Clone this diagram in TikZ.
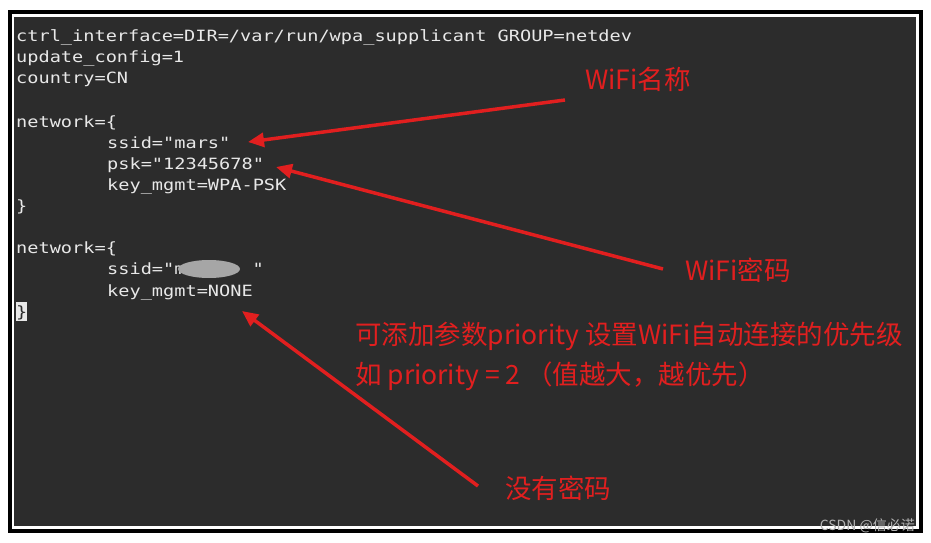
\documentclass[tikz,border=0pt]{standalone}
\usepackage{fontspec}
\setmonofont{DejaVu Sans Mono}
\newfontfamily\cjk{Noto Sans CJK SC}
\usetikzlibrary{arrows.meta}
\definecolor{bg}{HTML}{2C2C2C}
\definecolor{code}{HTML}{E8E8E8}
\definecolor{ann}{HTML}{E11F1F}
\tikzset{x=1pt,y=-1pt,
 codeline/.style={anchor=base west,inner sep=0pt,text=code,font=\ttfamily\fontsize{15.5}{18}\selectfont},
 annot/.style={anchor=base west,inner sep=0pt,text=ann,font=\cjk\fontsize{26.5}{30}\selectfont},
 redarrow/.style={draw=ann,line width=3.5pt,-{Triangle[length=16pt,width=14pt]}}}
\newcommand{\cl}[1]{\scalebox{1.2}[1]{#1}}
\begin{document}
\begin{tikzpicture}
\useasboundingbox (0,0) rectangle (931,543);
\fill[white] (0,0) rectangle (931,543);
\fill[black] (8,10) rectangle (923,533);
\fill[white] (12,14) rectangle (919,529);
\fill[bg] (14,17) rectangle (916,526);
% code
\node[codeline] (l1) at (16,42) {\cl{ctrl\_interface=DIR=/var/run/wpa\_supplicant GROUP=netdev}};
\node[codeline] (l2) at (16,63) {\cl{update\_config=1}};
\node[codeline] (l3) at (16,84) {\cl{country=CN}};
\node[codeline] (l4) at (16,127) {\cl{network=\{}};
\node[codeline] (l5) at (107,148) {\cl{ssid="mars"}};
\node[codeline] (l6) at (107,169) {\cl{psk="12345678"}};
\node[codeline] (l7) at (107,190) {\cl{key\_mgmt=WPA-PSK}};
\node[codeline] (l8) at (16,211) {\cl{\}}};
\node[codeline] (l9) at (16,253) {\cl{network=\{}};
\node[codeline] (l10) at (107,274) {\cl{ssid="m\hspace{3.6em}"}};
\node[codeline] (l11) at (107,296) {\cl{key\_mgmt=NONE}};
\fill[code] (16,302) rectangle (27,321);
\node[codeline,text=bg] (l12) at (16,317) {\cl{\}}};
\fill[gray!70] (209,269) ellipse (31 and 9);
% annotations
\node[annot] (a1) at (585,89) {WiFi名称};
\node[annot] (a2) at (685,280) {WiFi密码};
\node[annot] (a3) at (355,344) {可添加参数priority 设置WiFi自动连接的优先级};
\node[annot] (a4) at (355,384) {如 priority = 2 （值越大，越优先）};
\node[annot] (a5) at (505,498) {没有密码};
\coordinate (s1) at (565,100); \coordinate (e1) at (248,142);
\coordinate (s2) at (663,269); \coordinate (e2) at (276,167);
\coordinate (s3) at (478,486); \coordinate (e3) at (242,311);
\draw[redarrow] (s1) -- (e1);
\draw[redarrow] (s2) -- (e2);
\draw[redarrow] (s3) -- (e3);
\node[anchor=base east,inner sep=0pt,text=gray!60,font=\cjk\fontsize{14}{16}\selectfont] (wm) at (915,530) {CSDN @信必诺};
\end{tikzpicture}
\end{document}
